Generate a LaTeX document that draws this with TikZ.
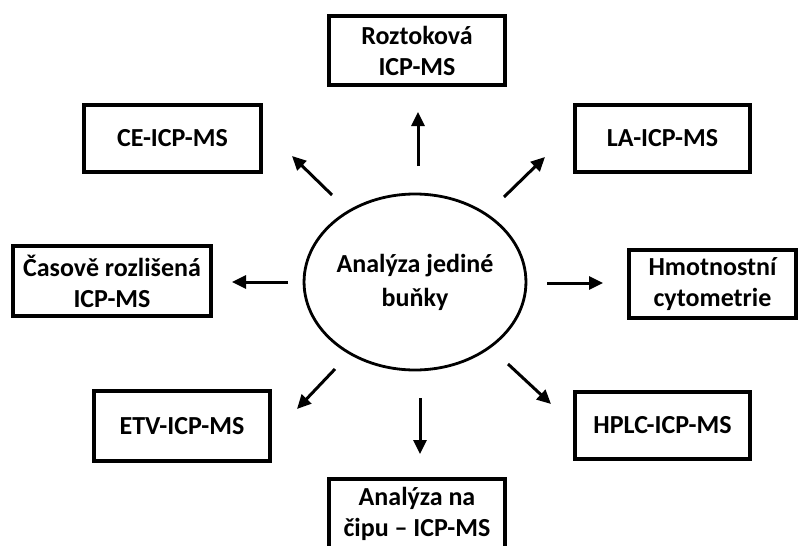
\documentclass[tikz,border=0pt]{standalone}
\usepackage{fontspec}
\setmainfont{Carlito}
\usetikzlibrary{arrows.meta,shapes.geometric}
\begin{document}
\begin{tikzpicture}[x=1pt,y=-1pt,
  box/.style={draw,line width=3.8pt,rectangle,inner sep=0pt,align=center,
    font=\bfseries\fontsize{26}{31}\selectfont},
  hub/.style={draw,line width=2.8pt,ellipse,inner sep=0pt,align=center,
    minimum width=196pt,minimum height=176pt,
    font=\bfseries\fontsize{26}{34}\selectfont},
  arr/.style={line width=3pt,-{Triangle[length=14pt,width=13pt]}}]
\useasboundingbox (0,0) rectangle (798,546);
\clip (0,0) rectangle (798,546);
% hub
\node[hub] (c) at (415,282) {Analýza jediné\\buňky};
% boxes
\node[box,minimum width=176pt,minimum height=69pt] (roz) at (417,50.5) {Roztoková\\ICP-MS};
\node[box,minimum width=175pt,minimum height=67pt] (la) at (662.5,138.5) {LA-ICP-MS};
\node[box,minimum width=167pt,minimum height=68pt] (hmo) at (712.5,284) {Hmotnostní\\cytometrie};
\node[box,minimum width=175pt,minimum height=67pt] (hplc) at (662.5,425.5) {HPLC-ICP-MS};
\node[box,minimum width=176pt,minimum height=70pt] (cip) at (417,514) {Analýza na\\čipu – ICP-MS};
\node[box,minimum width=176pt,minimum height=70pt] (etv) at (182,426) {ETV-ICP-MS};
\node[box,minimum width=198pt,minimum height=70pt] (cas) at (112,281) {Časově rozlišená\\ICP-MS};
\node[box,minimum width=177pt,minimum height=67pt] (ce) at (172.5,138.5) {CE-ICP-MS};
% arrow end points
\coordinate (t1) at (418,166); \coordinate (h1) at (418,112);
\coordinate (t2) at (504,197); \coordinate (h2) at (545,157);
\coordinate (t3) at (547,283); \coordinate (h3) at (603,283);
\coordinate (t4) at (508,364); \coordinate (h4) at (551,404);
\coordinate (t5) at (420,398); \coordinate (h5) at (420,454);
\coordinate (t6) at (335,369); \coordinate (h6) at (297,409);
\coordinate (t7) at (288,282); \coordinate (h7) at (232,282);
\coordinate (t8) at (332,195); \coordinate (h8) at (292,156);
\foreach \i in {1,...,8} {\draw[arr] (t\i) -- (h\i);}
\end{tikzpicture}
\end{document}
